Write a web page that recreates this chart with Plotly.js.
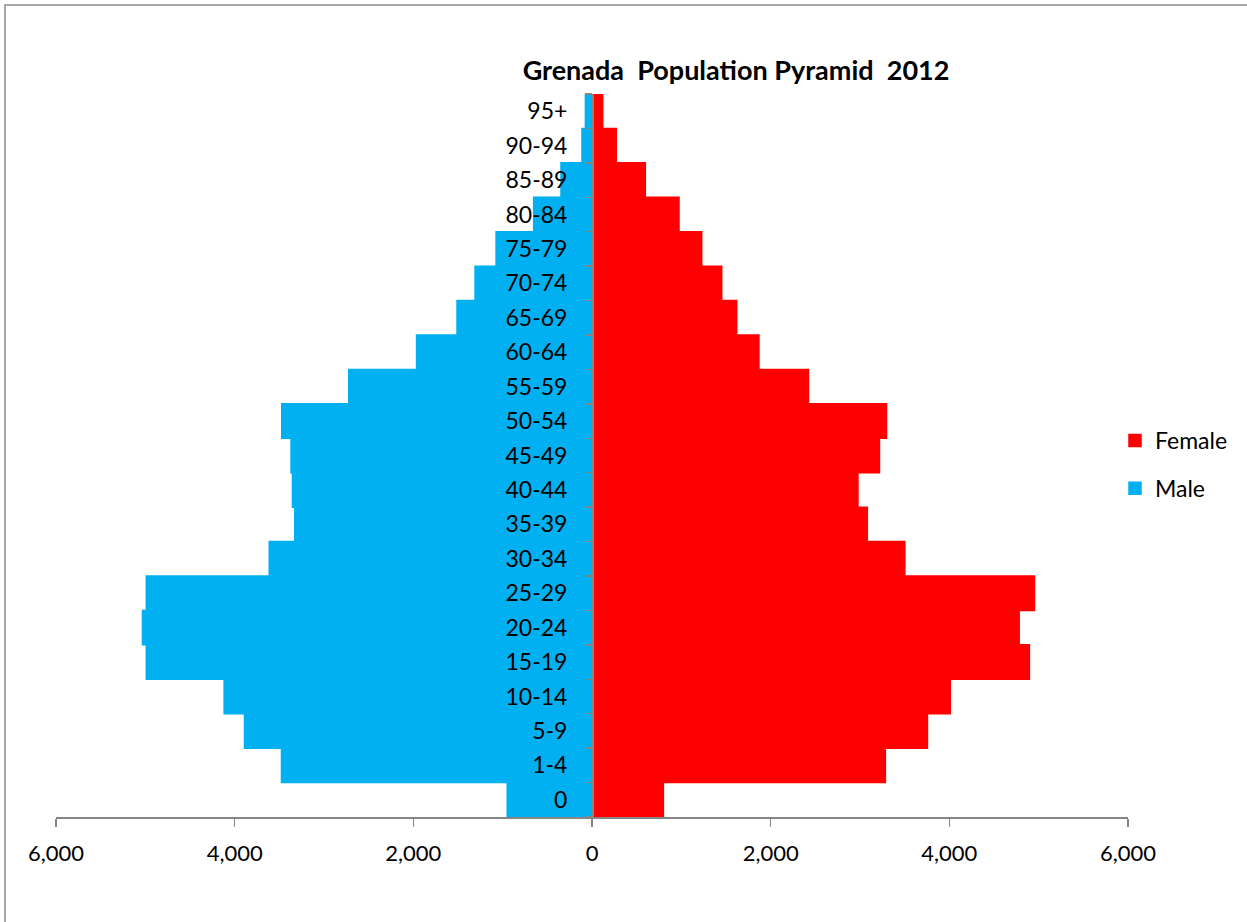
<!DOCTYPE html>
<html>
<head>
<meta charset="utf-8">
<script src="https://cdn.plot.ly/plotly-3.0.1.min.js"></script>
<style>
html,body{margin:0;padding:0;background:#fff;}
#chart{width:1247px;height:922px;}
</style>
</head>
<body>
<div id="chart"></div>
<script>
// Age groups, bottom to top
const ageGroups = ["0","1-4","5-9","10-14","15-19","20-24","25-29","30-34","35-39","40-44","45-49","50-54","55-59","60-64","65-69","70-74","75-79","80-84","85-89","90-94","95+"];
// Male population by age group
const male = [949, 3476, 3890, 4118, 4989, 5032, 4989, 3613, 3328, 3353, 3369, 3473, 2723, 1964, 1511, 1309, 1074, 653, 347, 112, 74];
// Female population by age group
const female = [799, 3284, 3755, 4011, 4896, 4782, 4953, 3502, 3082, 2977, 3218, 3297, 2423, 1869, 1620, 1452, 1228, 974, 597, 272, 120];
// X axis ticks
const xTickVals = [-6000, -4000, -2000, 0, 2000, 4000, 6000];
const xTickText = ["6,000", "4,000", "2,000", "0", "2,000", "4,000", "6,000"];

const FONT = "Lato, 'Open Sans', sans-serif";
const W = 1247, H = 922;
const mL = 56, mR = 119, mT = 94, mB = 105;
const pw = W - mL - mR, ph = H - mT - mB;
const px2paperX = p => (p - mL) / pw;
const px2paperY = p => (H - mB - p) / ph;

const traces = [
  {
    type: "bar", orientation: "h", name: "Female",
    y: ageGroups, x: female,
    marker: {color: "#FF0000", line: {width: 1.5, color: "#FF0000"}},
    legendgroup: "f", hoverinfo: "skip"
  },
  {
    type: "bar", orientation: "h", name: "Male",
    y: ageGroups, x: male.map(v => -v),
    marker: {color: "#00B0F0", line: {width: 1.5, color: "#00B0F0"}},
    legendgroup: "m", hoverinfo: "skip"
  }
];

const layout = {
  width: W, height: H,
  margin: {l: mL, r: mR, t: mT, b: mB, pad: 0},
  paper_bgcolor: "#fff", plot_bgcolor: "#fff",
  barmode: "relative", bargap: 0,
  font: {family: FONT, color: "#000"},
  title: {
    text: "Grenada\u00a0 Population Pyramid\u00a0 2012",
    font: {family: FONT, size: 27, color: "#000", weight: "bold"},
    xref: "container", x: 736 / W, xanchor: "center",
    yref: "container", y: 1 - 71 / H, yanchor: "middle"
  },
  xaxis: {
    range: [-6000, 6000],
    tickvals: xTickVals, ticktext: xTickText,
    showgrid: false, zeroline: false,
    showline: true, linecolor: "#868686", linewidth: 1.5,
    ticks: "outside", ticklen: 8, tickcolor: "#868686", tickwidth: 1.5,
    tickfont: {family: FONT, size: 22, color: "#000"},
    ticklabelstandoff: 8,
    fixedrange: true
  },
  yaxis: {
    type: "category",
    range: [-0.5, 20.5],
    anchor: "free", position: 0.5,
    showgrid: false, zeroline: false,
    showline: true, linecolor: "#868686", linewidth: 1.5,
    ticks: "outside", tickson: "boundaries", ticklen: 7, tickcolor: "#868686", tickwidth: 1.5,
    tickfont: {family: FONT, size: 23, color: "#000"},
    ticklabelstandoff: 20,
    fixedrange: true
  },
  showlegend: true,
  legend: {
    x: px2paperX(1115), xanchor: "left",
    y: px2paperY(419), yanchor: "top",
    traceorder: "grouped", tracegroupgap: 15,
    font: {family: FONT, size: 23, color: "#000"},
    bgcolor: "rgba(0,0,0,0)", borderwidth: 0
  },
  shapes: [
    {
      type: "rect", xref: "paper", yref: "paper",
      x0: px2paperX(5), x1: px2paperX(1300),
      y0: px2paperY(1000), y1: px2paperY(5),
      line: {color: "#8c8c8c", width: 1.5}, fillcolor: "rgba(0,0,0,0)", layer: "below"
    }
  ]
};

Plotly.newPlot("chart", traces, layout, {displayModeBar: false, staticPlot: true});
</script>
</body>
</html>
